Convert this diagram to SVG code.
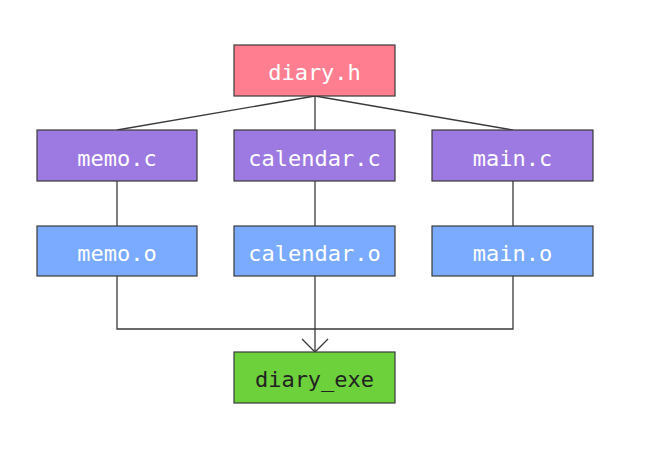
<svg xmlns="http://www.w3.org/2000/svg" width="649" height="451" viewBox="0 0 649 451">
<defs>
<style>
.box{stroke:#3a3a3a;stroke-width:1.2}
.t{font-family:"DejaVu Sans Mono","Liberation Mono",monospace;font-size:22px;text-anchor:middle;fill:#ffffff}
.dark{fill:#222222}
.c{stroke:#3a3a3a;stroke-width:1.3;fill:none}
</style>
<marker id="arr" viewBox="0 0 15 28" refX="14" refY="14" markerWidth="15" markerHeight="28" markerUnits="userSpaceOnUse" orient="auto">
<path d="M1,1 L14,14 L1,27" fill="none" stroke="#3a3a3a" stroke-width="1.3"/>
</marker>
</defs>
<rect width="649" height="451" fill="#ffffff"/>
<g id="connectors">
<line class="c" x1="315" y1="96" x2="117" y2="130"/>
<line class="c" x1="315" y1="96" x2="315" y2="130"/>
<line class="c" x1="315" y1="96" x2="513" y2="130"/>
<line class="c" x1="117" y1="181" x2="117" y2="226"/>
<line class="c" x1="315" y1="181" x2="315" y2="226"/>
<line class="c" x1="513" y1="181" x2="513" y2="226"/>
<polyline class="c" points="117,276 117,329 513,329 513,276"/>
<line class="c" x1="315" y1="276" x2="315" y2="352" marker-end="url(#arr)"/>
</g>
<g id="diary_h">
<rect class="box" x="234" y="45" width="161" height="51" fill="#ff7f91"/>
<text class="t" x="314.5" y="80">diary.h</text>
</g>
<g id="memo_c">
<rect class="box" x="37" y="130" width="160" height="51" fill="#9d79e2"/>
<text class="t" x="117" y="165.5">memo.c</text>
</g>
<g id="calendar_c">
<rect class="box" x="234" y="130" width="161" height="51" fill="#9d79e2"/>
<text class="t" x="314.5" y="165.5">calendar.c</text>
</g>
<g id="main_c">
<rect class="box" x="432" y="130" width="161" height="51" fill="#9d79e2"/>
<text class="t" x="512.5" y="165.5">main.c</text>
</g>
<g id="memo_o">
<rect class="box" x="37" y="226" width="160" height="50" fill="#7aabff"/>
<text class="t" x="117" y="261">memo.o</text>
</g>
<g id="calendar_o">
<rect class="box" x="234" y="226" width="161" height="50" fill="#7aabff"/>
<text class="t" x="314.5" y="261">calendar.o</text>
</g>
<g id="main_o">
<rect class="box" x="432" y="226" width="161" height="50" fill="#7aabff"/>
<text class="t" x="512.5" y="261">main.o</text>
</g>
<g id="diary_exe">
<rect class="box" x="234" y="352" width="161" height="51" fill="#6dd13b"/>
<text class="t dark" x="314.5" y="387">diary_exe</text>
</g>
</svg>
